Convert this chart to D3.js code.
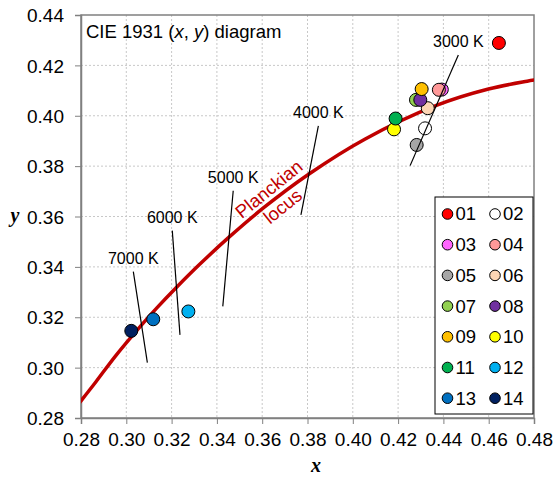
<!DOCTYPE html>
<html><head><meta charset="utf-8">
<script src="https://cdn.jsdelivr.net/npm/d3@7"></script>
<style>body{margin:0;background:#fff}svg{display:block}</style>
</head><body>
<svg id="chart" width="555" height="478"></svg>
<script>
// ---- data ----
const ids = ["01","02","03","04","05","06","07","08","09","10","11","12","13","14"];
const colors = ["#ff0000","#ffffff","#ff66ff","#ff9999","#a6a6a6","#fcd5b5","#92d050","#7030a0","#ffc000","#ffff00","#00b050","#00b0f0","#0070c0","#002060"];
const px = [0.4645,0.4319,0.4393,0.4380,0.4282,0.4331,0.4279,0.4298,0.4304,0.4182,0.4189,0.3274,0.3119,0.3022];
const py = [0.4289,0.3950,0.4104,0.4103,0.3884,0.4030,0.4063,0.4063,0.4106,0.3946,0.3989,0.3223,0.3192,0.3146];

const locusX = [0.2715,0.2807,0.2867,0.2952,0.3064,0.3135,0.3221,0.3324,0.3451,0.3608,0.3805,0.4053,0.4369,0.4599,0.4770,0.4862];
const locusY = [0.2768,0.2876,0.2945,0.3046,0.3166,0.3237,0.3318,0.3410,0.3516,0.3636,0.3768,0.3907,0.4041,0.4106,0.4137,0.4150];

const isoLabels = ["3000 K","4000 K","5000 K","6000 K","7000 K"];
const isoX1 = [0.4466,0.3848,0.3472,0.3203,0.3031];
const isoY1 = [0.4241,0.3960,0.3702,0.3544,0.3381];
const isoX2 = [0.4253,0.3771,0.3426,0.3237,0.3093];
const isoY2 = [0.3802,0.3606,0.3243,0.3130,0.3020];

const xTicks = [0.28,0.30,0.32,0.34,0.36,0.38,0.40,0.42,0.44,0.46,0.48];
const yTicks = [0.28,0.30,0.32,0.34,0.36,0.38,0.40,0.42,0.44];

// ---- layout ----
const svg = d3.select("#chart");
const L = 81, T = 15, R = 534, B = 418;
const x = d3.scaleLinear().domain([0.28,0.48]).range([L,R]);
const y = d3.scaleLinear().domain([0.28,0.44]).range([B,T]);
const font = "'Liberation Sans', Arial, sans-serif";

// grid
const g = svg.append("g");
g.selectAll(".gx").data(xTicks.slice(1,-1)).join("line")
  .attr("x1",d=>x(d)).attr("x2",d=>x(d)).attr("y1",T).attr("y2",B)
  .attr("stroke","#c8c8c8").attr("stroke-dasharray","2,2").attr("stroke-width",1);
g.selectAll(".gy").data(yTicks.slice(1,-1)).join("line")
  .attr("y1",d=>y(d)).attr("y2",d=>y(d)).attr("x1",L).attr("x2",R)
  .attr("stroke","#c8c8c8").attr("stroke-dasharray","2,2").attr("stroke-width",1);

// frame
svg.append("rect").attr("x",L).attr("y",T).attr("width",R-L).attr("height",B-T)
  .attr("fill","none").attr("stroke","#808080").attr("stroke-width",1.5);

// axes
const xAxis = svg.append("g").attr("transform",`translate(0,${B})`)
  .call(d3.axisBottom(x).tickValues(xTicks).tickFormat(d3.format(".2f")).tickSize(6).tickPadding(9));
const yAxis = svg.append("g").attr("transform",`translate(${L},0)`)
  .call(d3.axisLeft(y).tickValues(yTicks).tickFormat(d3.format(".2f")).tickSize(6).tickPadding(11));
[xAxis,yAxis].forEach(a=>{
  a.select(".domain").attr("stroke","#808080").attr("stroke-width",1.5);
  a.selectAll(".tick line").attr("stroke","#808080");
  a.selectAll("text").attr("font-family",font).attr("font-size",19).attr("fill","#000");
});
yAxis.selectAll("text").attr("dy","0.35em");

// clip
svg.append("clipPath").attr("id","clip").append("rect").attr("x",L).attr("y",T).attr("width",R-L).attr("height",B-T);

// locus
const locus = locusX.map((v,i)=>[v,locusY[i]]);
svg.append("path").datum(locus).attr("clip-path","url(#clip)")
  .attr("d",d3.line().x(d=>x(d[0])).y(d=>y(d[1])).curve(d3.curveCatmullRom))
  .attr("fill","none").attr("stroke","#c00000").attr("stroke-width",3.5);

// locus label
const lab = svg.append("g").attr("transform","translate(276,198) rotate(-39)");
lab.append("text").attr("x",0).attr("y",-5).attr("text-anchor","middle")
  .attr("font-family",font).attr("font-size",18.5).attr("fill","#c00000").text("Planckian");
lab.append("text").attr("x",0).attr("y",17).attr("text-anchor","middle")
  .attr("font-family",font).attr("font-size",18.5).attr("fill","#c00000").text("locus");

// points
svg.append("g").selectAll("circle").data(ids).join("circle")
  .attr("cx",(d,i)=>x(px[i])).attr("cy",(d,i)=>y(py[i])).attr("r",6.5)
  .attr("fill",(d,i)=>colors[i]).attr("stroke","#000").attr("stroke-width",1);

// isotherms (drawn over points)
const iso = svg.append("g");
iso.selectAll("line").data(isoLabels).join("line")
  .attr("x1",(d,i)=>x(isoX1[i])).attr("y1",(d,i)=>y(isoY1[i]))
  .attr("x2",(d,i)=>x(isoX2[i])).attr("y2",(d,i)=>y(isoY2[i]))
  .attr("stroke","#000").attr("stroke-width",1.2);
iso.selectAll("text").data(isoLabels).join("text")
  .attr("x",(d,i)=>x(isoX1[i]))
  .attr("y",(d,i)=>y(isoY1[i])-8)
  .attr("text-anchor","middle").attr("font-family",font).attr("font-size",16).attr("fill","#000")
  .text(d=>d);

// title
svg.append("text").attr("x",86).attr("y",38).attr("font-family",font).attr("font-size",18.5)
  .attr("fill","#000").html("CIE 1931 (<tspan font-style='italic'>x</tspan>, <tspan font-style='italic'>y</tspan>) diagram");

// axis titles
svg.append("text").attr("x",316).attr("y",472).attr("text-anchor","middle")
  .attr("font-family","'Liberation Serif','Times New Roman',serif").attr("font-size",20)
  .attr("font-weight","bold").attr("font-style","italic").text("x");
svg.append("text").attr("x",15).attr("y",222).attr("text-anchor","middle")
  .attr("font-family","'Liberation Serif','Times New Roman',serif").attr("font-size",20)
  .attr("font-weight","bold").attr("font-style","italic").text("y");

// legend
const lg = svg.append("g");
lg.append("rect").attr("x",435).attr("y",197).attr("width",98).attr("height",217)
  .attr("fill","#fff").attr("stroke","#000").attr("stroke-width",1);
const item = lg.selectAll(".it").data(ids).join("g")
  .attr("transform",(d,i)=>`translate(${i%2===0?447.5:495},${214+Math.floor(i/2)*30.7})`);
item.append("circle").attr("r",5.3).attr("fill",(d,i)=>colors[i]).attr("stroke","#000").attr("stroke-width",1);
item.append("text").attr("x",8).attr("dy","0.35em").attr("font-family",font).attr("font-size",18.5)
  .attr("fill","#000").text(d=>d);
</script>
</body></html>
